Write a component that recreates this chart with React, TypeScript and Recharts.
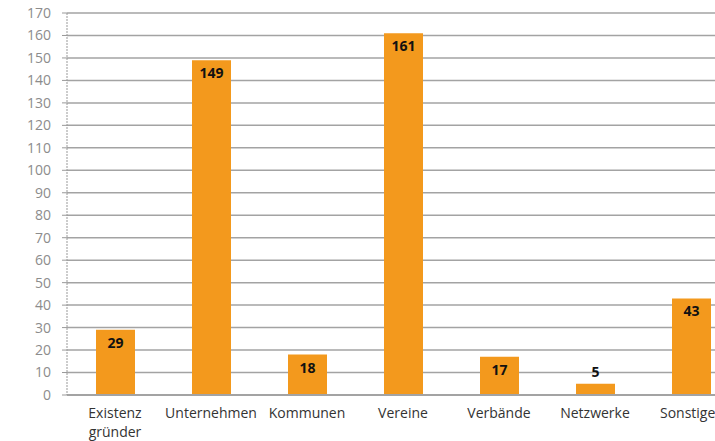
import { BarChart, Bar, XAxis, YAxis, CartesianGrid, LabelList } from 'recharts';

// Categories and counts
const CATEGORIES = ['Existenz\ngründer', 'Unternehmen', 'Kommunen', 'Vereine', 'Verbände', 'Netzwerke', 'Sonstiges'];
const COUNTS = [29, 149, 18, 161, 17, 5, 43];
const Y_TICKS = [0, 10, 20, 30, 40, 50, 60, 70, 80, 90, 100, 110, 120, 130, 140, 150, 160, 170];
const EDGE_TICKS = [0, 1, 2, 3, 4, 5, 6, 7];

const FONT = '"Open Sans", "Noto Sans", sans-serif';
const ORANGE = '#F3991D';

const data = CATEGORIES.map((name, i) => ({ name, value: COUNTS[i] }));

const CategoryTick = ({ x, y, payload }: any) => {
    const lines = String(payload.value).split('\n');
    return (
        <text x={x} y={y + 21} textAnchor="middle" fill="#333" fontSize={14} fontFamily={FONT}>
            {lines.map((line, i) => (
                <tspan key={i} x={x} dy={i === 0 ? 0 : 19}>{line}</tspan>
            ))}
        </text>
    );
};

// values that don't fit inside the bar go on top of it
const ValueLabel = ({ x, y, width, height, value }: any) => {
    const inside = height > 20;
    return (
        <text
            x={x + width / 2}
            y={inside ? y + 18 : y - 7}
            textAnchor="middle"
            fill="#111"
            fontSize={14}
            fontWeight="bold"
            fontFamily={FONT}
        >
            {value}
        </text>
    );
};

export default function App() {
    return (
        <div style={{ position: 'fixed', left: 0, top: 0, width: 715, height: 441, overflow: 'hidden', background: '#fff' }}>
            <BarChart
                width={740}
                height={441}
                data={data}
                margin={{ top: 13, right: 1, left: 0, bottom: 0 }}
            >
                <CartesianGrid stroke="#a3a3a3" strokeWidth={1.5} vertical={false} />
                <XAxis
                    xAxisId="edges"
                    type="number"
                    domain={[0, 7]}
                    ticks={EDGE_TICKS}
                    height={0}
                    tick={false}
                    axisLine={false}
                    tickLine={{ stroke: '#999' }}
                    tickSize={5}
                />
                <XAxis
                    dataKey="name"
                    height={46}
                    interval={0}
                    tick={<CategoryTick />}
                    tickLine={false}
                    tickSize={0}
                    axisLine={{ stroke: '#a3a3a3', strokeWidth: 2 }}
                />
                <YAxis
                    width={67}
                    domain={[0, 170]}
                    ticks={Y_TICKS}
                    interval={0}
                    tick={{ fill: '#8c8c8c', fontSize: 14, fontFamily: FONT }}
                    tickSize={5}
                    tickMargin={11}
                    tickLine={{ stroke: '#999' }}
                    axisLine={{ stroke: '#999', strokeDasharray: '2 1' }}
                />
                <Bar dataKey="value" fill={ORANGE} barSize={39} isAnimationActive={false}>
                    <LabelList dataKey="value" content={<ValueLabel />} />
                </Bar>
            </BarChart>
        </div>
    );
}
